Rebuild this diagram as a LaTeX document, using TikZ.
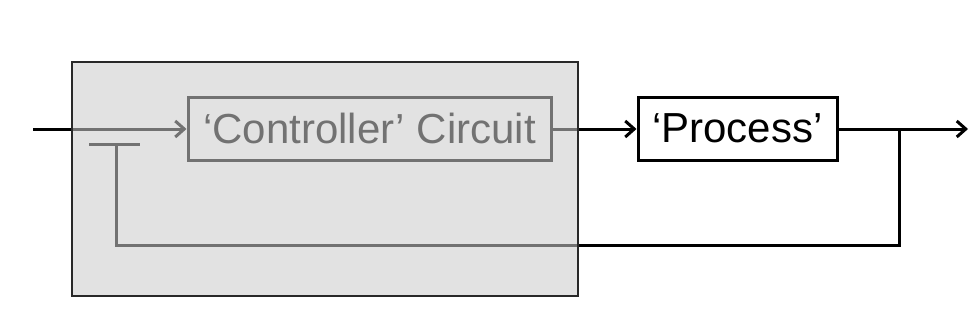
\documentclass[tikz,border=0pt]{standalone}
\usepackage{fontspec}
\setmainfont{Liberation Sans}
\usetikzlibrary{arrows.meta}
\begin{document}
\begin{tikzpicture}[x=1pt,y=-1pt,
  blk/.style={draw=black,line width=3pt,fill=white,minimum height=63pt,inner sep=0pt,font=\fontsize{42}{42}\selectfont},
  wire/.style={draw=black,line width=3pt},
  arr/.style={wire,-{Straight Barb[length=9pt,width=16pt,line width=3pt]}},
  shade/.style={draw=none,fill={rgb,255:red,204;green,204;blue,204},fill opacity=0.56}]
\useasboundingbox (0,0) rectangle (972,321);
\node[blk,minimum width=363pt] (ctrl) at (369.5,128.5) {‘Controller’ Circuit};
\node[blk,minimum width=199pt] (proc) at (737.5,128.5) {‘Process’};
\coordinate (in) at (33,129);
\coordinate (out) at (968,129);
\coordinate (tap) at (899,129);
\coordinate (fbc) at (899,245);
\coordinate (fbl) at (116,245);
\coordinate (fbt) at (116,144);
\coordinate (barl) at (89,144);
\coordinate (barr) at (140,144);
\draw[arr] (in) -- (ctrl.west |- in);
\draw[arr] (ctrl.east |- in) -- (proc.west |- in);
\draw[arr] (proc.east |- out) -- (out);
\draw[wire] (tap) -- (fbc) -- (fbl) -- (fbt);
\draw[wire] (barl) -- (barr);
\fill[shade] (72,62) rectangle (578,296);
\draw[line width=1.6pt,draw={rgb,255:red,40;green,40;blue,40}] (72,62) rectangle (578,296);
\end{tikzpicture}
\end{document}
